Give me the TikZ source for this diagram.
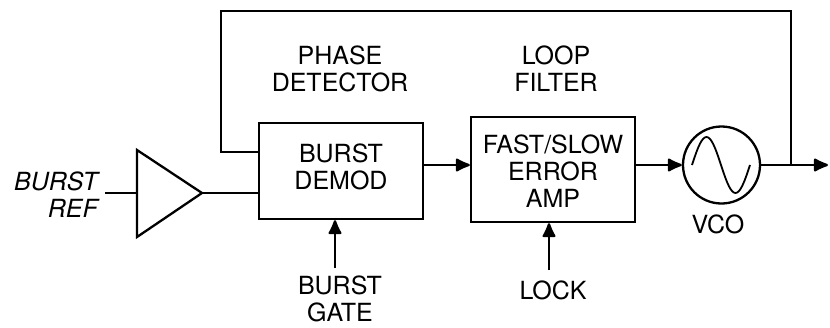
\documentclass[tikz,border=0pt]{standalone}
\usepackage{fontspec}
\setmainfont{TeX Gyre Heros}
\usetikzlibrary{arrows.meta}

\tikzset{
  trait/.style={line width=2.3pt},
  bloc/.style={draw, trait, minimum width=164pt, inner sep=0pt},
  fleche/.style={trait, -{Latex[length=17pt,width=15pt,round]}},
  texte/.style={font=\fontsize{25}{27}\selectfont, align=center, inner sep=0pt},
}

\begin{document}
\begin{tikzpicture}[x=1pt,y=-1pt]

\useasboundingbox (0,0) rectangle (830,327) ;

% blocs

\node[bloc, minimum height=96pt] (demod) at (341,171) {} ;
\node[bloc, minimum height=105pt] (erreur) at (553,169.5) {} ;
\node[draw, trait, circle, minimum size=77pt, inner sep=0pt] (vco) at (721.5,165) {} ;

% amplificateur d'entrée

\coordinate (amp_haut) at (137,150) ;
\coordinate (amp_bas) at (137,237) ;
\coordinate (amp_sortie) at (202,193) ;
\coordinate (amp_entree) at (137,193) ;
\draw[trait, line join=miter] (amp_haut) -- (amp_sortie) -- (amp_bas) -- cycle ;

% sinusoïde du vco

\draw[line width=1.8pt] plot[smooth, domain=0:360, samples=37] ({692+\x/360*58},{165-28*sin(\x)}) ;

% liaisons

\coordinate (entree) at (105,193) ;
\coordinate (jonction) at (791,165) ;
\coordinate (sortie) at (828,165) ;
\coordinate (coin_d) at (791,11) ;
\coordinate (coin_g) at (221,11) ;
\coordinate (porte) at (335,268) ;
\coordinate (verrou) at (549,270) ;

\draw[trait] (entree) -- (amp_entree) ;
\draw[trait] (amp_sortie) -- (amp_sortie -| demod.west) ;
\draw[fleche] (demod.east |- vco.west) -- (erreur.west |- vco.west) ;
\draw[fleche] (erreur.east |- vco.west) -- (vco.west) ;
\draw[fleche] (vco.east) -- (sortie) ;
\draw[trait, line join=miter] (jonction) -- (coin_d) -- (coin_g) |- ([yshift=19pt]demod.west) ;
\draw[fleche] (porte) -- (porte |- demod.south) ;
\draw[fleche] (verrou) -- (verrou |- erreur.south) ;

% textes

\node[texte] (t_demod) at (341,167) {BURST\\DEMOD} ;
\node[texte] (t_erreur) at (553,171.5) {FAST/SLOW\\ERROR\\AMP} ;
\node[texte] (t_phase) at (340,68.5) {PHASE\\DETECTOR} ;
\node[texte] (t_boucle) at (556,69) {LOOP\\FILTER} ;
\node[texte] (t_porte) at (340,299) {BURST\\GATE} ;
\node[texte] (t_verrou) at (553,290.5) {LOCK} ;
\node[texte] (t_vco) at (718,224) {VCO} ;
\node[texte, align=right, anchor=east, font=\fontsize{25}{27}\selectfont\itshape] (t_ref) at (98,194.5) {BURST\\REF} ;

\end{tikzpicture}
\end{document}
